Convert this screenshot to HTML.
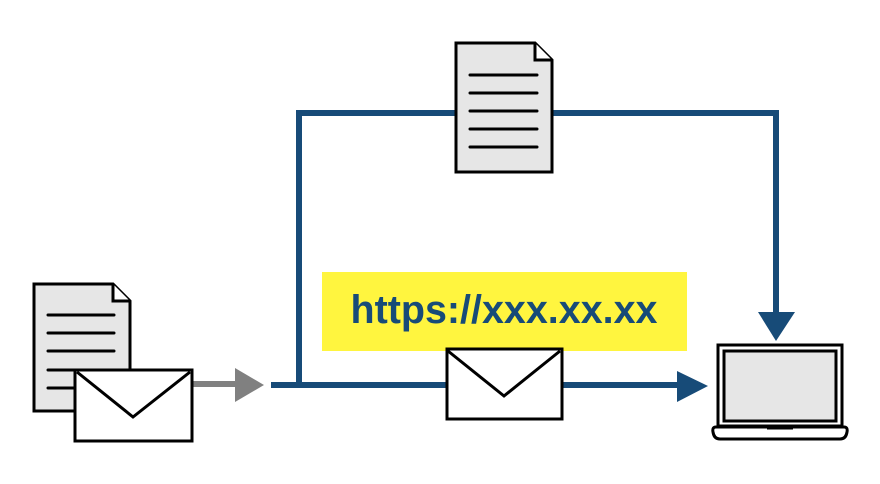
<!DOCTYPE html>
<html><head><style>body{margin:0;background:#fff}svg{display:block}</style></head>
<body>
<svg width="880" height="484" viewBox="0 0 880 484" xmlns="http://www.w3.org/2000/svg">
<!-- blue connectors -->
<polyline points="271,385 299,385 299,113 776,113 776,314" fill="none" stroke="#174b78" stroke-width="6"/>
<polygon points="758,312 795,312 776,341" fill="#174b78"/>
<line x1="299" y1="385" x2="680" y2="385" stroke="#174b78" stroke-width="6"/>
<polygon points="677,371 677,402 708,386" fill="#174b78"/>
<!-- gray arrow -->
<line x1="193" y1="384" x2="237" y2="384" stroke="#808080" stroke-width="6"/>
<polygon points="235,368 235,402 264,385" fill="#808080"/>
<!-- top document -->
<path d="M456,43 H535 L552,60 V172 H456 Z" fill="#e6e6e6" stroke="#000" stroke-width="3" stroke-linejoin="miter"/>
<path d="M535,43 V60 H552" fill="#fff" stroke="#000" stroke-width="3"/>
<g stroke="#000" stroke-width="3" stroke-linecap="round">
<line x1="470" y1="75" x2="537" y2="75"/><line x1="470" y1="93" x2="537" y2="93"/><line x1="470" y1="111" x2="537" y2="111"/><line x1="470" y1="129" x2="537" y2="129"/><line x1="470" y1="147" x2="537" y2="147"/>
</g>
<!-- yellow label -->
<rect x="322" y="272" width="365" height="79" fill="#fff53f"/>
<text x="504" y="323" text-anchor="middle" font-family="Liberation Sans, sans-serif" font-weight="bold" font-size="40" fill="#174b78" textLength="307" lengthAdjust="spacingAndGlyphs">https://xxx.xx.xx</text>
<!-- middle envelope -->
<rect x="447" y="349" width="115" height="70" fill="#fff" stroke="#000" stroke-width="3"/>
<polyline points="448,351 504,396 560,351" fill="none" stroke="#000" stroke-width="3"/>
<!-- left document -->
<path d="M34,284 H113 L130,301 V411 H34 Z" fill="#e6e6e6" stroke="#000" stroke-width="3"/>
<path d="M113,284 V301 H130" fill="#fff" stroke="#000" stroke-width="3"/>
<g stroke="#000" stroke-width="3" stroke-linecap="round">
<line x1="48" y1="315" x2="114" y2="315"/><line x1="48" y1="333" x2="114" y2="333"/><line x1="48" y1="351" x2="114" y2="351"/><line x1="48" y1="370" x2="114" y2="370"/><line x1="48" y1="388" x2="114" y2="388"/>
</g>
<!-- left envelope -->
<rect x="75" y="370" width="117" height="71" fill="#fff" stroke="#000" stroke-width="3"/>
<polyline points="77,372 133,417 190,372" fill="none" stroke="#000" stroke-width="3"/>
<!-- laptop -->
<rect x="718" y="345" width="124" height="81" fill="#fff" stroke="#000" stroke-width="3"/>
<rect x="724" y="351" width="112" height="70" fill="#e6e6e6" stroke="#000" stroke-width="3"/>
<path d="M716,427 H844 Q848,427 847,432 Q846,439 840,439 H720 Q714,439 713,432 Q712,427 716,427 Z" fill="#fff" stroke="#000" stroke-width="3"/>
<line x1="767" y1="428" x2="793" y2="428" stroke="#000" stroke-width="3"/>
</svg>
</body></html>
